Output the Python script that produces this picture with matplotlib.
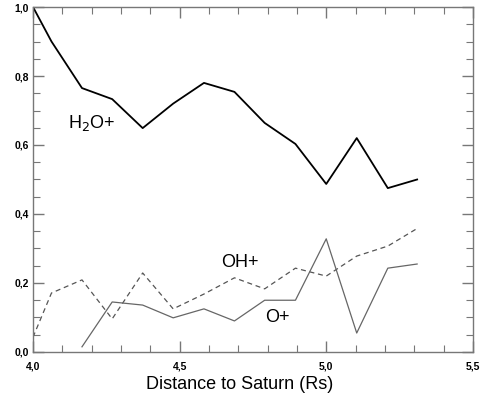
import matplotlib
matplotlib.use('Agg')
import matplotlib.pyplot as plt
from matplotlib.ticker import MultipleLocator, FuncFormatter

plt.rcParams['font.family'] = ['Liberation Sans', 'DejaVu Sans']

# distance to Saturn (Rs) for each sample
dist_h2o = [4.0, 4.063, 4.167, 4.27, 4.374, 4.478, 4.583, 4.687, 4.79, 4.895, 5.0, 5.104, 5.21, 5.31]
h2o = [1.0, 0.90, 0.765, 0.733, 0.649, 0.72, 0.78, 0.754, 0.664, 0.603, 0.487, 0.62, 0.475, 0.50]

dist_oh = [4.0, 4.063, 4.167, 4.27, 4.374, 4.478, 4.583, 4.687, 4.79, 4.895, 5.0, 5.104, 5.21, 5.31]
oh = [0.043, 0.171, 0.209, 0.096, 0.229, 0.125, 0.168, 0.215, 0.183, 0.243, 0.22, 0.278, 0.307, 0.358]

dist_o = [4.167, 4.27, 4.374, 4.478, 4.583, 4.687, 4.79, 4.895, 5.0, 5.104, 5.21, 5.31]
o = [0.015, 0.145, 0.136, 0.099, 0.125, 0.09, 0.15, 0.15, 0.328, 0.055, 0.243, 0.255]

fig = plt.figure(figsize=(4.82, 3.98), dpi=100)
ax = fig.add_axes([0.0685, 0.1156, 0.9125, 0.8668])

ax.plot(dist_h2o, h2o, color='black', lw=1.3)
ax.plot(dist_oh, oh, color='#555555', lw=0.9, ls=(0, (4, 3)))
ax.plot(dist_o, o, color='#666666', lw=0.9)

ax.text(4.2, 0.665, 'H$_2$O+', fontsize=13, ha='center', va='center')
ax.text(4.705, 0.258, 'OH+', fontsize=13, ha='center', va='center')
ax.text(4.835, 0.10, 'O+', fontsize=13, ha='center', va='center')

ax.set_xlim(4.0, 5.5)
ax.set_ylim(0.0, 1.0)

ax.xaxis.set_major_locator(MultipleLocator(0.5))
ax.xaxis.set_minor_locator(MultipleLocator(0.1))
ax.yaxis.set_major_locator(MultipleLocator(0.2))
ax.yaxis.set_minor_locator(MultipleLocator(0.05))

comma = FuncFormatter(lambda v, p: f"{v:.1f}".replace('.', ','))
ax.xaxis.set_major_formatter(comma)
ax.yaxis.set_major_formatter(comma)

for s in ax.spines.values():
    s.set_color('#777777')
    s.set_linewidth(1.0)

ax.tick_params(which='both', direction='in', top=True, right=True, color='#777777')
ax.tick_params(which='major', length=8, width=1.0, labelsize=7.5)
ax.tick_params(which='minor', length=5, width=0.8)
ax.tick_params(axis='x', which='major', pad=7)
ax.tick_params(axis='y', which='major', pad=3)
for lab in ax.get_xticklabels() + ax.get_yticklabels():
    lab.set_fontweight('bold')

ax.set_xlabel('Distance to Saturn (Rs)', fontsize=13, va='center')
ax.xaxis.set_label_coords(0.47, -0.095)

fig.savefig('out.png', dpi=100)
